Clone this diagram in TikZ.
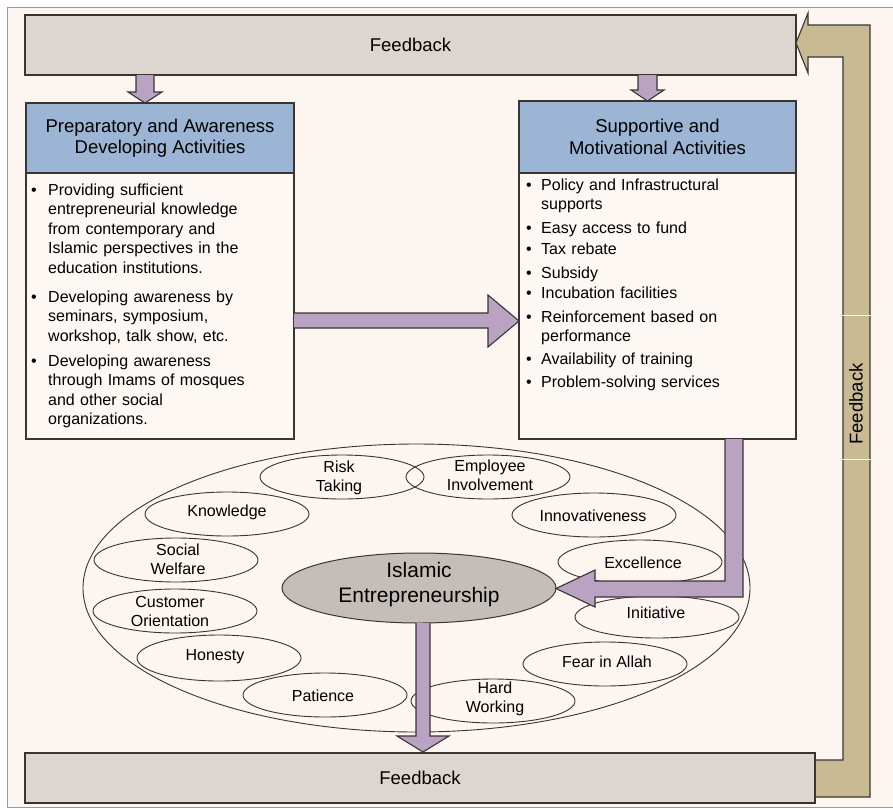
\documentclass[tikz,border=0pt]{standalone}
\usepackage{fontspec}
\setmainfont{Liberation Sans}
\usetikzlibrary{shapes.geometric}
\definecolor{bgc}{HTML}{FCF5F0}
\definecolor{bodyc}{HTML}{FDF8F4}
\definecolor{fbfill}{HTML}{DCD5D0}
\definecolor{hdrblue}{HTML}{9CB5D5}
\definecolor{purp}{HTML}{BAA2C3}
\definecolor{tanc}{HTML}{C9BA94}
\definecolor{iegray}{HTML}{C5BEB8}
\definecolor{linec}{HTML}{3A3533}
\definecolor{framec}{HTML}{9A9A9A}
\begin{document}
\begin{tikzpicture}[x=1pt,y=-1pt,
  fbbox/.style={draw=linec, line width=1.3pt, fill=fbfill, inner sep=0pt, font=\fontsize{18.5}{22}\selectfont},
  hdrbox/.style={draw=linec, line width=1.3pt, fill=hdrblue, inner sep=0pt, align=center, font=\fontsize{18.5}{21.5}\selectfont},
  bodybox/.style={draw=linec, line width=1.3pt, fill=bodyc, inner sep=0pt},
  itemtext/.style={anchor=base west, text width=250pt, align=left, inner sep=0pt, font=\fontsize{16}{19.4}\selectfont},
  bul/.style={anchor=base, inner sep=0pt, font=\fontsize{16}{19}\selectfont},
  trait/.style={ellipse, draw=linec, line width=0.9pt, minimum width=164pt, minimum height=44pt, inner sep=0pt},
  traitlbl/.style={inner sep=0pt, align=center, font=\fontsize{16}{19}\selectfont},
  blockarrow/.style={draw=linec, line width=1.1pt, fill=purp, line join=miter},
  tanarrow/.style={draw=linec, line width=1.1pt, fill=tanc, line join=miter}]
\useasboundingbox (0,0) rectangle (893,809);
\fill[white] (0,0) rectangle (893,809);
\fill[bgc] (7,7) rectangle (893,807);
\draw[framec, line width=0.8pt] (893,7) -- (7,7) -- (7,807) -- (893,807);

% feedback boxes
\node[fbbox, minimum width=771pt, minimum height=60pt] (topfb) at (410.5,45) {Feedback};
\node[fbbox, minimum width=790pt, minimum height=50pt] (botfb) at (420,778) {Feedback};

% tan feedback arrow
\draw[tanarrow] (816,760) -- (843,760) -- (843,57) -- (808,57) -- (808,73) -- (796,43)
  -- (808,13) -- (808,25) -- (870,25) -- (870,797) -- (816,797);
\draw[white, line width=0.8pt] (838,315) -- (875,315);
\draw[white, line width=0.8pt] (838,459) -- (875,459);
\node[rotate=90, inner sep=0pt, font=\fontsize{18.5}{22}\selectfont] (sidefb) at (856,404) {Feedback};

% left box
\node[hdrbox, minimum width=268pt, minimum height=70pt] (lhdr) at (160,138) {Preparatory and Awareness\\Developing Activities};
\node[bodybox, minimum width=268pt, minimum height=266pt] (lbody) at (160,306) {};
% right box
\node[hdrbox, minimum width=277pt, minimum height=72pt] (rhdr) at (657.5,137) {Supportive and\\Motivational Activities};
\node[bodybox, minimum width=277pt, minimum height=266pt] (rbody) at (657.5,306) {};

% left items
\node[bul] (lb1) at (34,195.5) {•};
\node[itemtext] (li1) at (48,195.5) {Providing sufficient\\entrepreneurial knowledge\\from contemporary and\\Islamic perspectives in the\\education institutions.};
\node[bul] (lb2) at (34,302.5) {•};
\node[itemtext] (li2) at (48,302.5) {Developing awareness by\\seminars, symposium,\\workshop, talk show, etc.};
\node[bul] (lb3) at (34,366.5) {•};
\node[itemtext] (li3) at (48,366.5) {Developing awareness\\through Imams of mosques\\and other social\\organizations.};

% right items
\node[bul] (rb1) at (529,190.5) {•};
\node[itemtext] (ri1) at (541,190.5) {Policy and Infrastructural\\supports};
\node[bul] (rb2) at (529,233.5) {•};
\node[itemtext] (ri2) at (541,233.5) {Easy access to fund};
\node[bul] (rb3) at (529,254.5) {•};
\node[itemtext] (ri3) at (541,254.5) {Tax rebate};
\node[bul] (rb4) at (529,278.5) {•};
\node[itemtext] (ri4) at (541,278.5) {Subsidy};
\node[bul] (rb5) at (529,298.5) {•};
\node[itemtext] (ri5) at (541,298.5) {Incubation facilities};
\node[bul] (rb6) at (529,322.5) {•};
\node[itemtext] (ri6) at (541,322.5) {Reinforcement based on\\performance};
\node[bul] (rb7) at (529,364.5) {•};
\node[itemtext] (ri7) at (541,364.5) {Availability of training};
\node[bul] (rb8) at (529,387.5) {•};
\node[itemtext] (ri8) at (541,387.5) {Problem-solving services};

% outer ellipse
\node[ellipse, draw=linec, line width=0.9pt, minimum width=667pt, minimum height=288pt, inner sep=0pt] (outer) at (416.5,588) {};

% trait ellipses
\node[trait] (risk) at (342,477) {};
\node[trait] (empl) at (488,477) {};
\node[trait] (know) at (227,514) {};
\node[trait] (innov) at (594,515) {};
\node[trait] (social) at (176,560) {};
\node[trait] (excel) at (640,562) {};
\node[trait] (cust) at (175,611) {};
\node[trait, minimum height=42pt] (init) at (657,617) {};
\node[trait, minimum height=46pt] (hon) at (219,658) {};
\node[trait] (fear) at (605,664) {};
\node[trait] (pat) at (325,695) {};
\node[trait] (hard) at (493,701) {};

\node[traitlbl] (lrisk) at (339,477.5) {Risk\\Taking};
\node[traitlbl] (lempl) at (490,475.5) {Employee\\Involvement};
\node[traitlbl] (lknow) at (227,512) {Knowledge};
\node[traitlbl] (linnov) at (593,516) {Innovativeness};
\node[traitlbl] (lsocial) at (178,559) {Social\\Welfare};
\node[traitlbl] (lexcel) at (643,563) {Excellence};
\node[traitlbl] (lcust) at (170,611) {Customer\\Orientation};
\node[traitlbl] (linit) at (656,613) {Initiative};
\node[traitlbl] (lhon) at (215,657) {Honesty};
\node[traitlbl] (lfear) at (607,662) {Fear in Allah};
\node[traitlbl] (lpat) at (323,696) {Patience};
\node[traitlbl] (lhard) at (495,699) {Hard\\Working};

% Islamic Entrepreneurship
\node[ellipse, draw=linec, line width=1pt, fill=iegray, minimum width=274pt, minimum height=70pt, inner sep=0pt] (ie) at (419,588) {};
\node[inner sep=0pt, align=center, font=\fontsize{21}{25}\selectfont] (lie) at (419,585) {Islamic\\Entrepreneurship};

% purple block arrows
\draw[blockarrow] (136,75) -- (136,92) -- (128,92) -- (145,103) -- (162,92) -- (154,92) -- (154,75);
\draw[blockarrow] (638,75) -- (638,90) -- (631,90) -- (647.5,101) -- (664,90) -- (657,90) -- (657,75);
\draw[blockarrow] (294,313) -- (488,313) -- (488,295) -- (519,321) -- (488,347) -- (488,328) -- (294,328);
\draw[blockarrow] (725,439) -- (725,581) -- (595,581) -- (595,570) -- (556,588.5) -- (595,607)
  -- (595,597) -- (743,597) -- (743,439);
\draw[blockarrow] (416,623) -- (416,736) -- (397,736) -- (423,752) -- (449,736) -- (430,736) -- (430,623);
\end{tikzpicture}
\end{document}
